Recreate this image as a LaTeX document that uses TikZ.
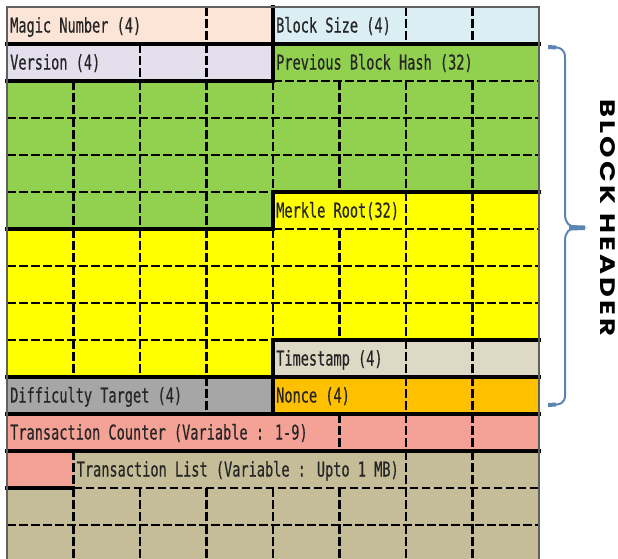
\documentclass[tikz,border=0pt]{standalone}
\usepackage{fontspec}
\newfontfamily\monof[FakeStretch=0.67,FakeBold=0.5]{DejaVu Sans Mono}
\newfontfamily\hdrf[FakeStretch=1.3,LetterSpace=15]{Poppins}
\definecolor{cPeach}{HTML}{FCE4D6}
\definecolor{cLBlue}{HTML}{DAEEF3}
\definecolor{cLav}{HTML}{E4DFEC}
\definecolor{cGreen}{HTML}{92D050}
\definecolor{cYellow}{HTML}{FFFF00}
\definecolor{cStamp}{HTML}{DDD9C4}
\definecolor{cGray}{HTML}{A6A6A6}
\definecolor{cOrange}{HTML}{FFC000}
\definecolor{cSalmon}{HTML}{F4A296}
\definecolor{cTan}{HTML}{C4BD97}
\definecolor{cText}{HTML}{262626}
\definecolor{cBrace}{HTML}{5B84B1}
\definecolor{cBorder}{HTML}{606060}
\tikzset{
  cellline/.style={line width=3.5pt, black, line cap=rect},
  dashline/.style={line width=2.2pt, black, dash pattern=on 8.5pt off 3.5pt},
  lbl/.style={anchor=base west, inner sep=0pt, font=\monof\fontsize{20.3}{22}\selectfont, text=cText},
  bracestyle/.style={line width=2pt, draw=cBrace},
  hdr/.style={font=\hdrf\bfseries\fontsize{21}{23}\selectfont, rotate=-90, inner sep=0pt, text=black}
}
\begin{document}
\begin{tikzpicture}[x=66.5pt,y=-37pt]
\useasboundingbox (-7pt,7pt) rectangle (611pt,-551pt);
\begin{scope}
\clip (-7pt,7pt) rectangle (611pt,-551pt);
% fills
\fill[cPeach] (0,0) rectangle (4,1);
\fill[cLBlue] (4,0) rectangle (8,1);
\fill[cLav] (0,1) rectangle (4,2);
\fill[cGreen] (4,1) rectangle (8,2);
\fill[cGreen] (0,2) rectangle (8,5);
\fill[cGreen] (0,5) rectangle (4,6);
\fill[cYellow] (4,5) rectangle (8,6);
\fill[cYellow] (0,6) rectangle (8,9);
\fill[cYellow] (0,9) rectangle (4,10);
\fill[cStamp] (4,9) rectangle (8,10);
\fill[cGray] (0,10) rectangle (4,11);
\fill[cOrange] (4,10) rectangle (8,11);
\fill[cSalmon] (0,11) rectangle (8,12);
\fill[cSalmon] (0,12) rectangle (1,13);
\fill[cTan] (1,12) rectangle (8,13);
\fill[cTan] (0,13) rectangle (8,15.5);
% dashed verticals
\foreach \r/\cs in {0/{3,6,7}, 1/{2,3}, 2/{1,...,7}, 3/{1,...,7}, 4/{1,...,7},
  5/{1,2,3,6,7}, 6/{1,...,7}, 7/{1,...,7}, 8/{1,...,7}, 9/{1,2,3,6,7},
  10/{3,6,7}, 11/{5,6,7}, 12/{1,6,7}, 13/{1,...,7}, 14/{1,...,7}}{
  \foreach \c in \cs { \draw[dashline] (\c,\r) -- (\c,\r+1); }
}
% dashed horizontals
\foreach \y/\a/\b in {2/4/8, 3/0/8, 4/0/8, 5/0/4, 6/4/8, 7/0/8, 8/0/8, 9/0/4, 13/1/8, 14/0/8}
  \draw[dashline] (\a,\y) -- (\b,\y);
% solid field borders
\foreach \y/\a/\b in {1/0/8, 2/0/4, 5/4/8, 6/0/4, 9/4/8, 10/0/8, 11/0/8, 12/0/8, 13/0/1}
  \draw[cellline] (\a,\y) -- (\b,\y);
\foreach \r in {0,1,5,9,10}
  \draw[cellline] (4,\r) -- (4,\r+1);
% outer border
\draw[line width=1.3pt, draw=cBorder] (0,0) rectangle (8,15.5);
\end{scope}
% labels
\node[lbl] (magic) at ([xshift=3pt,yshift=-25.5pt]0,0) {Magic Number (4)};
\node[lbl] (bsize) at ([xshift=3pt,yshift=-25.5pt]4,0) {Block Size (4)};
\node[lbl] (version) at ([xshift=3pt,yshift=-25.5pt]0,1) {Version (4)};
\node[lbl] (prevhash) at ([xshift=3pt,yshift=-25.5pt]4,1) {Previous Block Hash (32)};
\node[lbl] (merkle) at ([xshift=3pt,yshift=-25.5pt]4,5) {Merkle Root(32)};
\node[lbl] (tstamp) at ([xshift=3pt,yshift=-25.5pt]4,9) {Timestamp (4)};
\node[lbl] (difficulty) at ([xshift=3pt,yshift=-25.5pt]0,10) {Difficulty Target (4)};
\node[lbl] (nonce) at ([xshift=3pt,yshift=-25.5pt]4,10) {Nonce (4)};
\node[lbl] (txcounter) at ([xshift=3pt,yshift=-25.5pt]0,11) {Transaction Counter (Variable : 1-9)};
\node[lbl] (txlist) at ([xshift=3pt,yshift=-25.5pt]1,12) {Transaction List (Variable : Upto 1 MB)};
% brace and header
\begin{scope}[x=1pt,y=-1pt,shift={(-7pt,7pt)}]
\draw[bracestyle] (549,47) .. controls (561,47) and (565,49) .. (565,58)
  -- (565,214) .. controls (565,223) and (569,227) .. (578,227.5)
  .. controls (569,228) and (565,232) .. (565,241)
  -- (565,395) .. controls (565,403) and (561,405) .. (549,405);
\fill[cBrace] (548,45) -- (556,45.5) -- (556,49.5) -- (548,49) -- cycle;
\fill[cBrace] (548,403) -- (556,402.5) -- (556,406.5) -- (548,407) -- cycle;
\fill[cBrace] (569,225) -- (585,225.5) -- (585,230) -- (569,230.5) -- cycle;
\node[hdr] (header) at (608,218) {BLOCK HEADER};
\end{scope}
\end{tikzpicture}
\end{document}
